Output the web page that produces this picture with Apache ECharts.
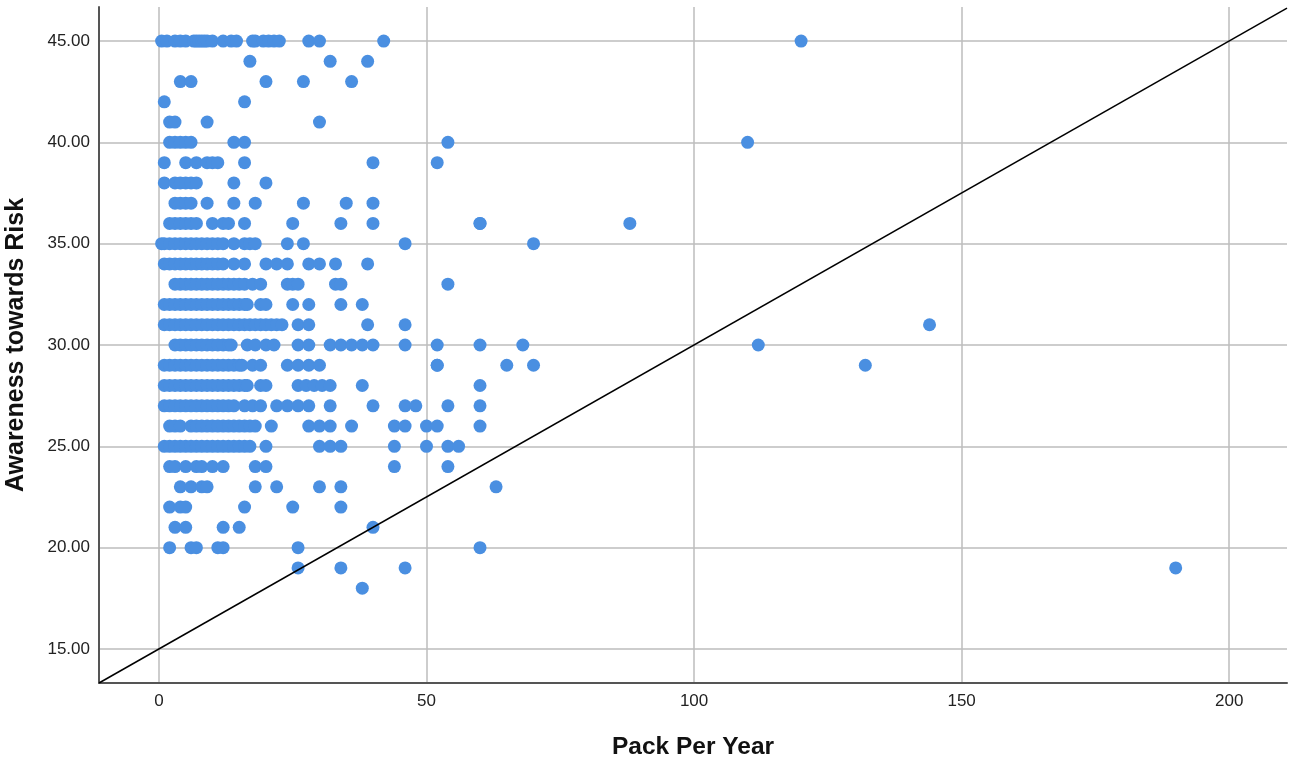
<!DOCTYPE html>
<html>
<head>
<meta charset="utf-8">
<script src="https://cdn.jsdelivr.net/npm/echarts@6/dist/echarts.min.js"></script>
<style>
  html, body { margin: 0; padding: 0; background: #fff; }
  #chart { width: 1299px; height: 762px; }
</style>
</head>
<body>
<div id="chart"></div>
<script>
// Pack Per Year values for each Awareness score
const y45 = [0.5, 1.5, 3, 4, 5, 6.5, 7, 7.5, 8, 8.5, 9, 10, 12, 13.5, 14.5, 17.5, 18, 19.5, 20.5, 21.5, 22.5, 28, 30, 42, 120]
const y44 = [17, 32, 39]
const y43 = [4, 6, 20, 27, 36]
const y42 = [1, 16]
const y41 = [2, 3, 9, 30]
const y40 = [2, 3, 4, 5, 6, 14, 16, 54, 110]
const y39 = [1, 5, 7, 9, 10, 11, 16, 40, 52]
const y38 = [1, 3, 4, 5, 6, 7, 14, 20]
const y37 = [3, 4, 5, 6, 9, 14, 18, 27, 35, 40]
const y36 = [2, 3, 4, 5, 6, 7, 10, 12, 13, 16, 25, 34, 40, 60, 60, 88]
const y35 = [0.5, 1, 2, 3, 4, 5, 6, 7, 8, 9, 10, 11, 12, 14, 16, 17, 18, 24, 27, 46, 70]
const y34 = [1, 2, 3, 4, 5, 6, 7, 8, 9, 10, 11, 12, 14, 16, 20, 22, 24, 28, 30, 33, 39]
const y33 = [3, 4, 5, 6, 7, 8, 9, 10, 11, 12, 13, 14, 15, 16, 17.5, 19, 24, 25, 26, 33, 34, 54]
const y32 = [1, 2, 3, 4, 5, 6, 7, 8, 9, 10, 11, 12, 13, 14, 15, 16, 16.5, 19, 20, 25, 28, 34, 38]
const y31 = [1, 2, 3, 4, 5, 6, 7, 8, 9, 10, 11, 12, 13, 14, 15, 16, 17, 18, 19, 20, 21, 22, 23, 26, 28, 39, 46, 144]
const y30 = [3, 4, 5, 6, 7, 8, 9, 10, 11, 12, 13, 13.5, 16.5, 18, 20, 21.5, 26, 28, 32, 34, 36, 38, 40, 46, 52, 60, 68, 112]
const y29 = [1, 2, 3, 4, 5, 6, 7, 8, 9, 10, 11, 12, 13, 14, 15, 15.5, 17.5, 19, 24, 26, 28, 30, 52, 52, 65, 70, 132]
const y28 = [1, 2, 3, 4, 5, 6, 7, 8, 9, 10, 11, 12, 13, 14, 15, 16, 16.5, 19, 20, 26, 27.5, 29, 30.5, 32, 38, 60]
const y27 = [1, 2, 3, 4, 5, 6, 7, 8, 9, 10, 11, 12, 13, 14, 16, 17.5, 19, 22, 24, 26, 28, 32, 40, 46, 48, 54, 60]
const y26 = [2, 3, 4, 6, 7, 8, 9, 10, 11, 12, 13, 14, 15, 16, 17, 18, 21, 28, 30, 32, 36, 44, 46, 50, 52, 60]
const y25 = [1, 2, 3, 4, 5, 6, 7, 8, 9, 10, 11, 12, 13, 14, 15, 16, 17, 20, 30, 32, 34, 44, 50, 54, 56]
const y24 = [2, 3, 5, 7, 8, 10, 12, 18, 20, 44, 54]
const y23 = [4, 6, 8, 9, 18, 22, 30, 34, 63]
const y22 = [2, 4, 5, 16, 25, 34]
const y21 = [3, 5, 12, 15, 40]
const y20 = [2, 6, 7, 11, 12, 26, 60]
const y19 = [26, 34, 46, 190]
const y18 = [38]

const scores = [45, 44, 43, 42, 41, 40, 39, 38, 37, 36, 35, 34, 33, 32, 31, 30, 29, 28, 27, 26, 25, 24, 23, 22, 21, 20, 19, 18]
const packsByScore = [y45, y44, y43, y42, y41, y40, y39, y38, y37, y36, y35, y34, y33, y32, y31, y30, y29, y28, y27, y26, y25, y24, y23, y22, y21, y20, y19, y18]

// reference line end points (data units)
const refLine = [[-11.2, 13.32], [210.8, 46.62]]

const xRange = [-11.2, 210.8]
const yRange = [13.32, 46.68]

const points = []
scores.forEach((s, i) => {
  packsByScore[i].forEach(x => points.push([x, s]))
})

const font = "'Liberation Sans', Arial, sans-serif"
const gridColor = '#bcbcbc'

const chart = echarts.init(document.getElementById('chart'))
chart.setOption({
  animation: false,
  backgroundColor: '#fff',
  grid: { left: 99, right: 12, top: 7, bottom: 79, containLabel: false, outerBoundsMode: 'none' },
  xAxis: {
    type: 'value',
    min: xRange[0],
    max: xRange[1],
    minInterval: 50,
    maxInterval: 50,
    name: 'Pack Per Year',
    nameLocation: 'middle',
    nameGap: 52,
    nameTextStyle: { fontFamily: font, fontSize: 24.5, fontWeight: 'bold', color: '#111' },
    axisLine: { show: true, onZero: false, lineStyle: { color: '#555', width: 2 } },
    axisTick: { show: false },
    axisLabel: { fontFamily: font, fontSize: 17, color: '#222', margin: 10, showMinLabel: false, showMaxLabel: false },
    splitLine: { show: true, showMinLine: false, showMaxLine: false, lineStyle: { color: gridColor, width: 1.5 } }
  },
  yAxis: {
    type: 'value',
    min: yRange[0],
    max: yRange[1],
    minInterval: 5,
    maxInterval: 5,
    name: 'Awareness towards Risk',
    nameLocation: 'middle',
    nameGap: 70,
    nameTextStyle: { fontFamily: font, fontSize: 25, fontWeight: 'bold', color: '#111' },
    axisLine: { show: true, onZero: false, lineStyle: { color: '#555', width: 2 } },
    axisTick: { show: false },
    axisLabel: {
      fontFamily: font, fontSize: 17, color: '#222', margin: 9,
      showMinLabel: false, showMaxLabel: false,
      formatter: v => v.toFixed(2)
    },
    splitLine: { show: true, showMinLine: false, showMaxLine: false, lineStyle: { color: gridColor, width: 1.5 } }
  },
  series: [
    {
      type: 'scatter',
      data: points,
      symbolSize: 13,
      itemStyle: { color: '#4a8fe1', opacity: 1 },
      z: 2
    },
    {
      type: 'line',
      data: refLine,
      symbol: 'none',
      silent: true,
      lineStyle: { color: '#000', width: 1.5 },
      z: 3
    }
  ]
})
</script>
</body>
</html>
